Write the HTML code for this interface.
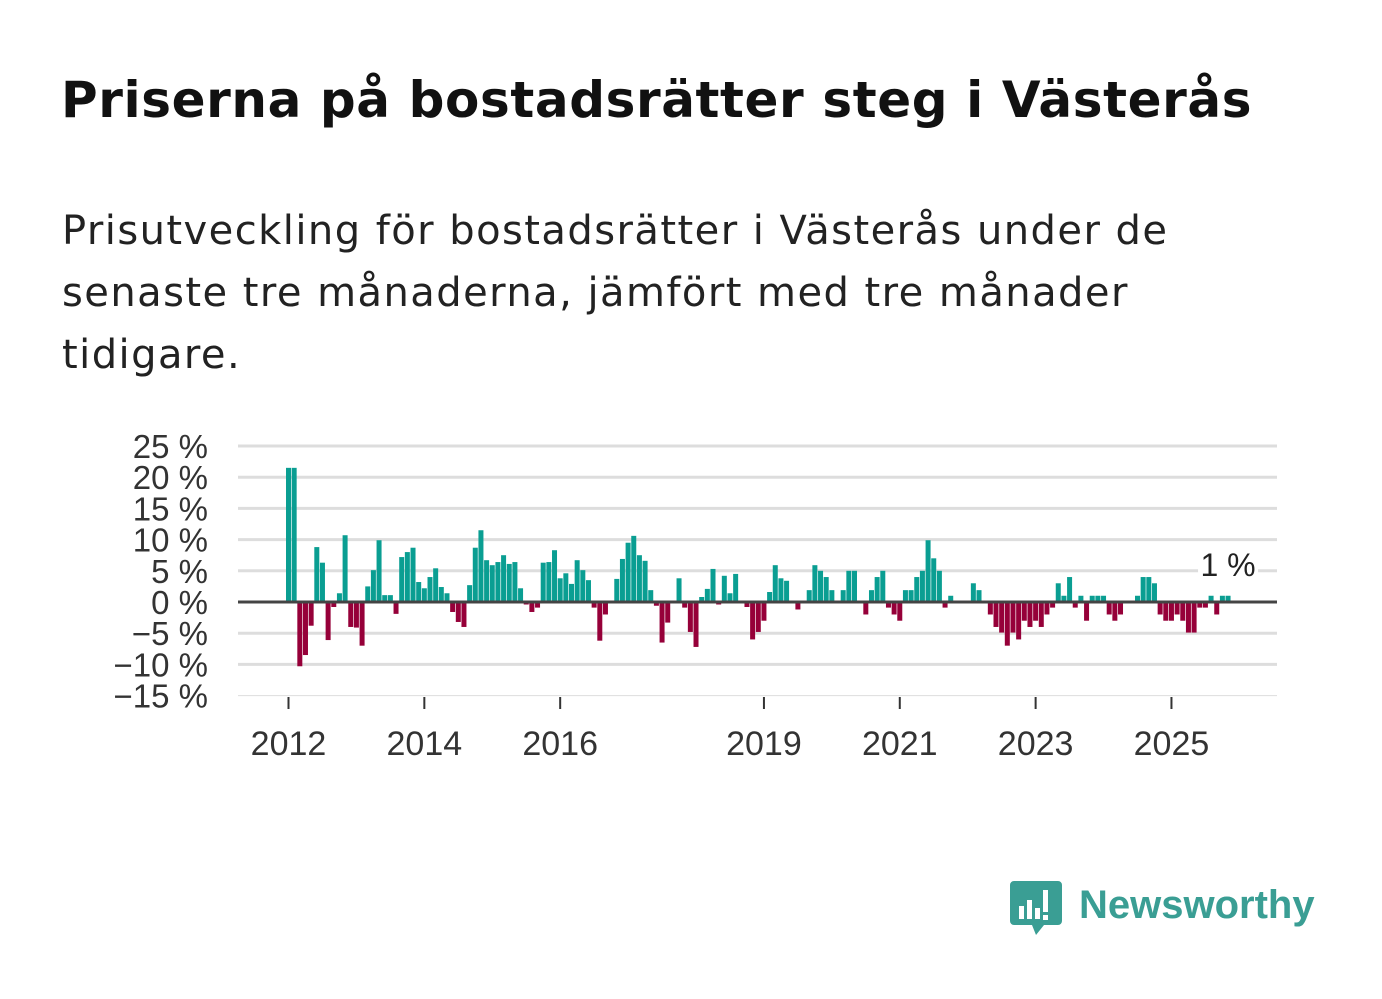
<!DOCTYPE html>
<html><head><meta charset="utf-8"><style>
body{margin:0;background:#fff;width:1382px;height:999px;overflow:hidden;font-family:"Liberation Sans",sans-serif;}
#title{position:absolute;left:61px;top:71px;font-family:"DejaVu Sans",sans-serif;font-size:50px;font-weight:bold;color:#111;white-space:nowrap;letter-spacing:0.6px}
#sub{position:absolute;left:62px;top:200px;font-family:"DejaVu Sans",sans-serif;font-size:40px;color:#222;line-height:62px;width:1250px;letter-spacing:1.45px;white-space:nowrap}
#logo{position:absolute;left:1010px;top:878px}
</style></head><body>
<div id="title">Priserna på bostadsrätter steg i Västerås</div>
<div id="sub">Prisutveckling för bostadsrätter i Västerås under de<br>senaste tre månaderna, jämfört med tre månader<br>tidigare.</div>
<svg id="chart" width="1382" height="999" style="position:absolute;left:0;top:0"></svg>
<div id="logo">
<svg width="320" height="64">
<path d="M4 3h44a4 4 0 0 1 4 4v36a4 4 0 0 1-4 4H34l-8 10-4-10H4a4 4 0 0 1-4-4V7a4 4 0 0 1 4-4z" fill="#3a9e94"/>
<rect x="9" y="28" width="5" height="13" fill="#fff"/><rect x="17" y="22" width="5" height="19" fill="#fff"/><rect x="25" y="30" width="5" height="11" fill="#fff"/><rect x="33" y="12" width="5" height="22" fill="#fff"/><rect x="33" y="37" width="5" height="5" fill="#fff"/>
<text x="69" y="40" font-family="Liberation Sans, sans-serif" font-weight="bold" font-size="40" fill="#3a9e94">Newsworthy</text>
</svg></div>
<script>
const values=[21.5,21.5,-10.3,-8.5,-3.8,8.8,6.3,-6.1,-0.8,1.4,10.7,-4,-4.1,-7,2.5,5.1,9.9,1.1,1.1,-1.9,7.2,8,8.7,3.2,2.2,4,5.4,2.4,1.4,-1.6,-3.2,-4,2.7,8.7,11.5,6.7,5.9,6.4,7.5,6.1,6.4,2.2,-0.4,-1.6,-0.9,
6.3,6.4,8.3,3.8,4.6,2.9,6.7,5.1,3.5,-0.9,-6.2,-2,0,3.7,6.9,9.5,10.6,7.5,6.6,1.9,-0.6,-6.5,-3.3,0,3.8,-0.9,-4.8,-7.2,0.8,2.1,5.3,-0.4,4.2,1.4,4.5,0,-0.8,-6,-4.8,-3,1.6,5.9,3.8,3.4,
0,-1.2,0,1.9,5.9,5,4,1.9,0,1.9,5,5,0,-2,1.9,4,5,-0.9,-2,-3,1.9,1.9,4,5,9.9,7,5,-0.9,1,0,0,0,3,1.9,0,-2,-4,-4.9,-7,
-4.9,-6,-3,-4,-3,-4,-2,-0.9,3,1,4,-0.9,1,-3,1,1,1,-2,-3,-2,0,0,1,4,4,3,-2,-3,-3,-2,-3,-4.9,-4.9,-0.9,-0.9,1,-2,1,1];
const startYear=2012;
const tickYears=[2012,2014,2016,2019,2021,2023,2025];
const yTicks=[25,20,15,10,5,0,-5,-10,-15];
const lastLabel="1 %";
const NS="http://www.w3.org/2000/svg";
const svg=document.getElementById('chart');
const x0=288.5,pitch=5.66,bw=5;
const xS=i=>x0+i*pitch;
const yS=v=>602-v*6.24;
function mk(t,a){const e=document.createElementNS(NS,t);for(const k in a)e.setAttribute(k,a[k]);svg.appendChild(e);return e;}
yTicks.forEach(v=>{
  if(v!==0){const g=mk('line',{x1:238,x2:1277,y1:yS(v),y2:yS(v),stroke:'#ddd','stroke-width':v===-15?1:3});
  
  }
  const t=mk('text',{x:208,y:yS(v)+12,'text-anchor':'end','font-size':33,fill:'#333','font-family':'Liberation Sans, sans-serif'});
  t.textContent=(v<0?'\u2212'+(-v):v)+' %';
  
  
});
values.forEach((v,i)=>{
  const r=mk('rect',{x:xS(i)-bw/2,y:Math.min(yS(v),602),width:bw,height:Math.abs(yS(v)-602),fill:v>=0?'#0a9e92':'#960039'});
  
  
});
const z=mk('line',{x1:238,x2:1277,y1:602,y2:602,stroke:'#444','stroke-width':3});


tickYears.forEach(yr=>{
  const x=xS((yr-startYear)*12);
  const l=mk('line',{x1:x,x2:x,y1:697,y2:709,stroke:'#333','stroke-width':2});
  
  
  const t=mk('text',{x:x,y:755,'text-anchor':'middle','font-size':34,fill:'#333','font-family':'Liberation Sans, sans-serif'});
  t.textContent=yr;
  
  
});
const li=values.length-1;
const bg=mk('rect',{x:xS(li)-30,y:548,width:60,height:30,fill:'#fff'});


const lt=mk('text',{x:xS(li),y:576,'text-anchor':'middle','font-size':32,fill:'#222','font-family':'Liberation Sans, sans-serif'});
lt.textContent=lastLabel;


</script>
</body></html>
